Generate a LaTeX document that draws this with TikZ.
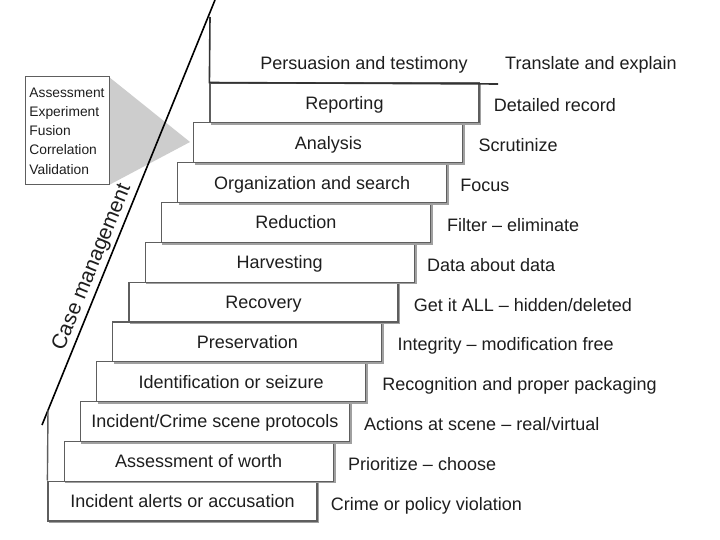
\documentclass[tikz,border=0pt]{standalone}
\usepackage{fontspec}
\setmainfont{Liberation Sans}
\definecolor{boxline}{HTML}{5E5E5E}
\definecolor{shadowgray}{HTML}{A0A0A0}
\definecolor{txt}{HTML}{1E1E1E}
\definecolor{trigray}{HTML}{CDCDCD}
\begin{document}
\begin{tikzpicture}[x=1pt,y=-1pt,
  stepbox/.style={draw=boxline, line width=1.2pt, fill=white,
    minimum width=269pt, minimum height=39.8pt, inner sep=0pt,
    text height=13pt, text depth=0pt, text=txt,
    font=\fontsize{18}{20}\selectfont,
    preaction={draw=shadowgray, line width=1.4pt, fill=shadowgray,
      transform canvas={xshift=1.6pt, yshift=-1.6pt}}},
  sidelabel/.style={anchor=west, inner sep=0pt, text height=13pt, text depth=0pt,
    text=txt, font=\fontsize{18}{20}\selectfont},
  listbox/.style={draw=boxline, line width=1pt, fill=white, minimum width=84pt,
    minimum height=108pt, inner sep=0pt, align=left, text=txt,
    font=\fontsize{13.8}{19.2}\selectfont},
  guide/.style={draw=black, line width=1.6pt},
  topline/.style={draw=black!80, line width=1.6pt}]
\useasboundingbox[fill=white] (0,0) rectangle (720,540);
% coordinates
\coordinate (dlow) at (42,425);
\coordinate (dtop) at (215,0);
\coordinate (ptop) at (210,17);
\coordinate (pend) at (498,84);
\coordinate (blow) at (48,410);
\coordinate (tip) at (190,142);
% grey wedge behind the list box
\fill[trigray] (109,77) -- (109,185) -- (tip) -- cycle;
% case management guide
\draw[guide] (dlow) -- (dtop)
  node[pos=0.36, sloped, above, inner sep=2.5pt, text=txt,
       font=\fontsize{21}{23}\selectfont] (cm) {Case management};
% list box
\node[listbox] (lst) at (67,131) {Assessment\\Experiment\\Fusion\\Correlation\\Validation};
% steps
\node[stepbox] (s0) at (182.5,501.0) {Incident alerts or accusation};
\node[stepbox] (s1) at (198.7,461.2) {Assessment of worth};
\node[stepbox] (s2) at (214.9,421.4) {Incident/Crime scene protocols};
\node[stepbox] (s3) at (231.1,381.6) {Identification or seizure};
\node[stepbox] (s4) at (247.3,341.8) {Preservation};
\node[stepbox] (s5) at (263.5,302.0) {Recovery};
\node[stepbox] (s6) at (279.7,262.2) {Harvesting};
\node[stepbox] (s7) at (295.9,222.4) {Reduction};
\node[stepbox] (s8) at (312.1,182.6) {Organization and search};
\node[stepbox] (s9) at (328.3,142.8) {Analysis};
\node[stepbox] (s10) at (344.5,103.0) {Reporting};
% top step (open)
\draw[topline] (ptop) -- (s10.north west) -- (pend);
\draw[draw=boxline, line width=1.4pt] (blow) -- (s0.north west);
\node[sidelabel, anchor=center] (p11) at (364,63.5) {Persuasion and testimony};
% side labels
\node[sidelabel] (r11) at (505,63.5) {Translate and explain};
\node[sidelabel] (r10) at ([xshift=14pt,yshift=-2.5pt]s10.east) {Detailed record};
\node[sidelabel] (r9) at ([xshift=15pt,yshift=-2.5pt]s9.east) {Scrutinize};
\node[sidelabel] (r8) at ([xshift=13pt,yshift=-2.5pt]s8.east) {Focus};
\node[sidelabel] (r7) at ([xshift=16pt,yshift=-2.5pt]s7.east) {Filter -- eliminate};
\node[sidelabel] (r6) at ([xshift=12pt,yshift=-2.5pt]s6.east) {Data about data};
\node[sidelabel] (r5) at ([xshift=15pt,yshift=-2.5pt]s5.east) {Get it ALL -- hidden/deleted};
\node[sidelabel] (r4) at ([xshift=15pt,yshift=-2.5pt]s4.east) {Integrity -- modification free};
\node[sidelabel] (r3) at ([xshift=16pt,yshift=-2.5pt]s3.east) {Recognition and proper packaging};
\node[sidelabel] (r2) at ([xshift=14pt,yshift=-2.5pt]s2.east) {Actions at scene -- real/virtual};
\node[sidelabel] (r1) at ([xshift=14pt,yshift=-2.5pt]s1.east) {Prioritize -- choose};
\node[sidelabel] (r0) at ([xshift=13pt,yshift=-2.5pt]s0.east) {Crime or policy violation};
\end{tikzpicture}
\end{document}
